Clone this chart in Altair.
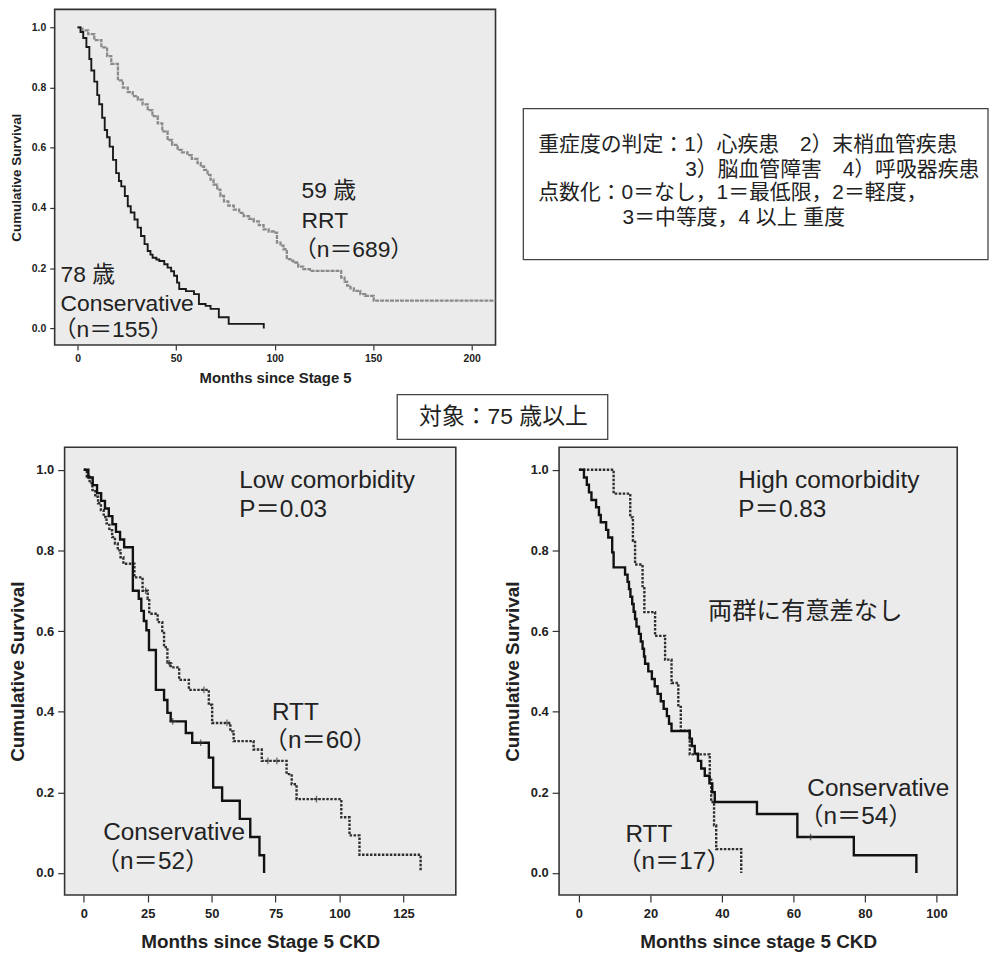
import altair as alt
import pandas as pd

# ---------------- data ----------------
# Top panel: all patients
top_cons_t = [0, 1.5, 2.9, 4.5, 6, 7, 8.5, 10, 11, 12.5, 13.8, 15, 16.3, 18, 19.6, 21, 22.2, 24, 25.5, 27,
              28.9, 30.5, 32.2, 34, 35.6, 37, 38.1, 40, 41.5, 44, 45.7, 47.5, 49, 50.5, 51.6, 55, 59.1, 61.6,
              65, 67.5, 71.7, 76.7, 94.5]
top_cons_s = [1.0, 0.985, 0.965, 0.935, 0.895, 0.857, 0.82, 0.775, 0.745, 0.70, 0.659, 0.635, 0.604, 0.56,
              0.516, 0.49, 0.472, 0.44, 0.406, 0.385, 0.362, 0.335, 0.307, 0.28, 0.257, 0.245, 0.235, 0.229,
              0.224, 0.213, 0.202, 0.19, 0.175, 0.152, 0.131, 0.124, 0.114, 0.081, 0.075, 0.065, 0.037, 0.015, 0.0]
top_rrt_t = [0, 2.5, 5.4, 8.5, 12.1, 15, 17.1, 20.5, 23, 25.5, 28, 30.6, 33, 35.6, 38, 40.7, 43, 45.7, 48,
             50.8, 53, 55.8, 58, 60.9, 62.5, 64.2, 66, 67.5, 69, 70.9, 72.5, 74.3, 76.5, 79.3, 82, 84.3, 87,
             89.4, 92, 94.4, 97, 99.5, 101.2, 103, 104.5, 106.2, 108, 109.5, 112, 114.5, 117.9, 131.3, 133.8,
             135.5, 136.8, 138.5, 140.2, 143.5, 146, 150.3, 212]
top_rrt_s = [1.0, 0.99, 0.978, 0.958, 0.934, 0.905, 0.879, 0.824, 0.80, 0.785, 0.772, 0.76, 0.744, 0.725,
             0.705, 0.681, 0.655, 0.626, 0.61, 0.593, 0.585, 0.576, 0.563, 0.549, 0.538, 0.527, 0.51, 0.494,
             0.478, 0.461, 0.44, 0.422, 0.408, 0.395, 0.384, 0.373, 0.364, 0.356, 0.343, 0.329, 0.322, 0.318,
             0.285, 0.275, 0.263, 0.23, 0.225, 0.219, 0.205, 0.197, 0.191, 0.191, 0.169, 0.155, 0.142, 0.133,
             0.125, 0.114, 0.108, 0.092, 0.092]
top_ann_t = [113.7, 113.7, 109.8, -8.6, -8.6, -12.1]
top_ann_s = [0.456, 0.357, 0.262, 0.176, 0.081, -0.006]
top_ann_txt = ["59 歳", "RRT", "（n＝689）", "78 歳", "Conservative", "（n＝155）"]

# Bottom-left panel: low comorbidity
lo_cons_t = [0, 1.8, 3.5, 5.2, 6.8, 8.3, 9.8, 11.2, 12.6, 14.2, 15.8, 19.2, 21.5, 22.5, 23.5, 24.5, 25.5,
             28.2, 31.4, 32.7, 34, 39.9, 42.4, 48.9, 50.6, 54.1, 61, 65.1, 68.7, 70.5]
lo_cons_s = [1.0, 0.981, 0.962, 0.942, 0.923, 0.904, 0.885, 0.865, 0.846, 0.827, 0.808, 0.70, 0.68, 0.65,
             0.625, 0.602, 0.553, 0.454, 0.429, 0.397, 0.376, 0.347, 0.323, 0.286, 0.212, 0.179, 0.134,
             0.089, 0.044, 0.0]
lo_rtt_t = [0, 1.2, 2.3, 3.4, 4.5, 5.6, 6.7, 7.8, 8.9, 10, 11.1, 12.2, 13.3, 14.4, 15.5, 19.8, 23, 25,
            25.6, 28.9, 30.7, 31.4, 32.7, 34, 37.3, 41.1, 48.9, 50.2, 57.3, 58.6, 66.4, 69.6, 79.3, 81.3,
            83.2, 100.7, 103.9, 107.8, 131.7]
lo_rtt_s = [1.0, 0.983, 0.967, 0.95, 0.933, 0.917, 0.90, 0.883, 0.867, 0.85, 0.833, 0.817, 0.80, 0.783,
            0.767, 0.733, 0.70, 0.68, 0.643, 0.622, 0.60, 0.56, 0.52, 0.51, 0.479, 0.454, 0.417, 0.372,
            0.351, 0.327, 0.306, 0.278, 0.245, 0.22, 0.183, 0.138, 0.093, 0.045, 0.005]
lo_cens_t = [45.7, 34.8, 47.0, 56.0, 72.0, 75.5, 91.0, 33.5, 24.2]
lo_cens_s = [0.323, 0.376, 0.454, 0.372, 0.278, 0.278, 0.183, 0.52, 0.70]
lo_ann_t = [60.8, 60.8, 73.6, 70.3, 7.6, 4.7]
lo_ann_s = [0.972, 0.90, 0.397, 0.327, 0.098, 0.027]
lo_ann_txt = ["Low comorbidity", "P＝0.03", "RTT", "（n＝60）", "Conservative", "（n＝52）"]

# Bottom-right panel: high comorbidity
hi_cons_t = [0, 1.4, 2.2, 2.8, 3.5, 4.8, 5.6, 6.1, 7.6, 8.2, 9.3, 9.7, 12.9, 13.6, 14.0, 14.4, 14.9, 15.3,
             15.7, 16.1, 16.8, 17.3, 17.8, 18.2, 18.5, 19.4, 20.4, 21.2, 22, 22.9, 23.7, 24.6, 25.2, 25.9,
             31, 31.6, 32.4, 33.3, 34.2, 35.2, 36.5, 37.3, 38, 49.8, 61.1, 76.9, 94.4]
hi_cons_s = [1.0, 0.981, 0.963, 0.944, 0.925, 0.907, 0.888, 0.87, 0.851, 0.832, 0.795, 0.758, 0.74, 0.722,
             0.704, 0.685, 0.667, 0.648, 0.63, 0.611, 0.593, 0.574, 0.556, 0.537, 0.519, 0.50, 0.481, 0.463,
             0.444, 0.426, 0.407, 0.389, 0.37, 0.352, 0.333, 0.315, 0.296, 0.278, 0.259, 0.241, 0.222, 0.2,
             0.176, 0.146, 0.089, 0.044, 0.0]
hi_rtt_t = [0, 9.7, 14.35, 15.1, 15.7, 17.8, 18.3, 21.3, 24.1, 25.9, 27.8, 28.5, 31, 36.6, 37, 37.8, 38.4, 45.4]
hi_rtt_s = [1.0, 0.941, 0.882, 0.824, 0.765, 0.706, 0.647, 0.588, 0.529, 0.471, 0.412, 0.353, 0.294, 0.235,
            0.176, 0.118, 0.059, 0.0]
hi_cens_t = [64.8]
hi_cens_s = [0.089]
hi_ann_t = [44.6, 44.6, 36.1, 63.9, 61.6, 13.0, 10.7]
hi_ann_s = [0.972, 0.90, 0.647, 0.208, 0.138, 0.093, 0.027]
hi_ann_txt = ["High comorbidity", "P＝0.83", "両群に有意差なし", "Conservative", "（n＝54）", "RTT", "（n＝17）"]

# Explanatory texts
box_lines = ["重症度の判定：1）心疾患　2）末梢血管疾患", "3）脳血管障害　4）呼吸器疾患",
             "点数化：0＝なし，1＝最低限，2＝軽度，", "3＝中等度，4 以上 重度"]
label_text = "対象：75 歳以上"
surv_ticks = [0.0, 0.2, 0.4, 0.6, 0.8, 1.0]

# ---------------- styling ----------------
AXF = "Liberation Sans"
TXF = "Liberation Sans, Noto Sans CJK JP"
INK = "#222222"
PANEL = "#ebebeb"
EDGE = "#333333"


def df(t, s, **extra):
    d = pd.DataFrame({"t": t, "s": s})
    for k, v in extra.items():
        d[k] = v
    return d


def axes(xvals, xtitle, small, yoffset=0, xtitle_x=None):
    if small:
        tick, lab, xlabpad, ylabpad, tit, titpad_x, titpad_y, ytit = 5, 10.5, 4, 4, 15, 6, 8, 13.5
    else:
        tick, lab, xlabpad, ylabpad, tit, titpad_x, titpad_y, ytit = 7, 13, 6, 4, 19, 12, 8, 19
    common = dict(grid=False, domain=False, tickSize=tick, tickColor="#333", tickWidth=1.2,
                  labelFont=AXF, labelFontWeight="bold", labelFontSize=lab, labelColor=INK,
                  labelFlush=False, titleFont=AXF, titleFontWeight="bold", titleColor=INK)
    xextra = {} if xtitle_x is None else {"titleX": xtitle_x}
    ax = alt.Axis(values=xvals, title=xtitle, titleFontSize=tit, titlePadding=titpad_x,
                  labelPadding=xlabpad, **xextra, **common)
    ay = alt.Axis(values=surv_ticks, format=".1f", title="Cumulative Survival", titleFontSize=ytit,
                  titlePadding=titpad_y, labelPadding=ylabpad, offset=yoffset, **common)
    return ax, ay


def km_panel(curves, cens, ann, xdom, ydom, xvals, xtitle, small, fsize, yoffset=0, xtitle_x=None,
             frame=None):
    ax, ay = axes(xvals, xtitle, small, yoffset, xtitle_x)
    xs = alt.Scale(domain=xdom, nice=False, zero=False)
    ys = alt.Scale(domain=ydom, nice=False, zero=False)
    X = alt.X("t:Q", scale=xs, axis=ax)
    Y = alt.Y("s:Q", scale=ys, axis=ay)
    layers = []
    if frame is not None:
        layers.append(frame)
    for d, color, width, dash in curves:
        kw = dict(interpolate="step-after", color=color, strokeWidth=width)
        if dash:
            kw["strokeDash"] = dash
        layers.append(alt.Chart(d).mark_line(**kw).encode(x=X, y=Y))
    if cens is not None:
        layers.append(alt.Chart(cens).mark_point(shape="M-1,0L1,0M0,-1L0,1", size=45, filled=False,
                                                 color="#333", strokeWidth=1.3).encode(x=X, y=Y))
    layers.append(alt.Chart(ann).mark_text(align="left", baseline="middle", font=TXF, fontSize=fsize,
                                           color=INK).encode(x=X, y=Y, text="label:N"))
    return layers


one = pd.DataFrame({"k": [0]})

# ---------- top panel ----------
top_layers = km_panel(
    [(df(top_rrt_t, top_rrt_s), "#8a8a8a", 2.3, [4, 1]),
     (df(top_cons_t, top_cons_s), "#1a1a1a", 1.9, None)],
    None, df(top_ann_t, top_ann_s, label=top_ann_txt),
    [-11.6, 212.1], [-0.055, 1.060], [0, 50, 100, 150, 200], "Months since Stage 5", True, 23)

box = alt.Chart(one).mark_rect(fill="white", stroke="#444", strokeWidth=1.3).encode(
    x=alt.value(472), x2=alt.value(940), y=alt.value(100), y2=alt.value(252))
box_txt = [alt.Chart(one).mark_text(align="left", baseline="middle", font=TXF, fontSize=21, color=INK)
           .encode(x=alt.value(px), y=alt.value(py), text=alt.value(txt))
           for txt, px, py in zip(box_lines, [487, 635, 487, 572], [137, 162, 185, 210])]
lab_box = alt.Chart(one).mark_rect(fill="white", stroke="#444", strokeWidth=1.3).encode(
    x=alt.value(345), x2=alt.value(557), y=alt.value(388), y2=alt.value(433))
lab_txt = alt.Chart(one).mark_text(align="center", baseline="middle", font=TXF, fontSize=23, color=INK).encode(
    x=alt.value(452), y=alt.value(411), text=alt.value(label_text))

top = alt.layer(*top_layers, box, *box_txt, lab_box, lab_txt).properties(width=444, height=338)

# ---------- bottom panels ----------
# The low-comorbidity view starts 10 px left of its framed panel so that its frame sits
# 10 px to the right of the top panel's frame, as in the original figure.
lo_frame = alt.Chart(one).mark_rect(fill=PANEL, stroke=EDGE, strokeWidth=1.6).encode(
    x=alt.value(10), x2=alt.value(404), y=alt.value(0), y2=alt.value(451))
lo = alt.layer(*km_panel(
    [(df(lo_rtt_t, lo_rtt_s), "#2e2e2e", 2.4, [2.5, 1.5]),
     (df(lo_cons_t, lo_cons_s), "#111111", 2.4, None)],
    df(lo_cens_t, lo_cens_s), df(lo_ann_t, lo_ann_s, label=lo_ann_txt),
    [-11.37, 145.46], [-0.0549, 1.0559], [0, 25, 50, 75, 100, 125], "Months since Stage 5 CKD", False,
    24.5, yoffset=-10, xtitle_x=207, frame=lo_frame)).properties(
    width=404, height=451, view=alt.ViewBackground(fillOpacity=0, strokeOpacity=0))

hi = alt.layer(*km_panel(
    [(df(hi_rtt_t, hi_rtt_s), "#2e2e2e", 2.4, [2.5, 1.5]),
     (df(hi_cons_t, hi_cons_s), "#111111", 2.4, None)],
    df(hi_cens_t, hi_cens_s), df(hi_ann_t, hi_ann_s, label=hi_ann_txt),
    [-5.56, 105.83], [-0.0549, 1.0559], [0, 20, 40, 60, 80, 100], "Months since stage 5 CKD", False,
    24.5)).properties(width=401, height=451)

chart = alt.concat(
    top,
    alt.hconcat(lo, hi, spacing=46),
    columns=1, align="none", spacing=5,
).properties(padding={"left": 0, "top": -3, "right": 0, "bottom": 0}, background="white").configure_view(
    fill=PANEL, stroke=EDGE, strokeWidth=1.6)

chart.save("out.html", embed_options={"renderer": "svg", "actions": False})
